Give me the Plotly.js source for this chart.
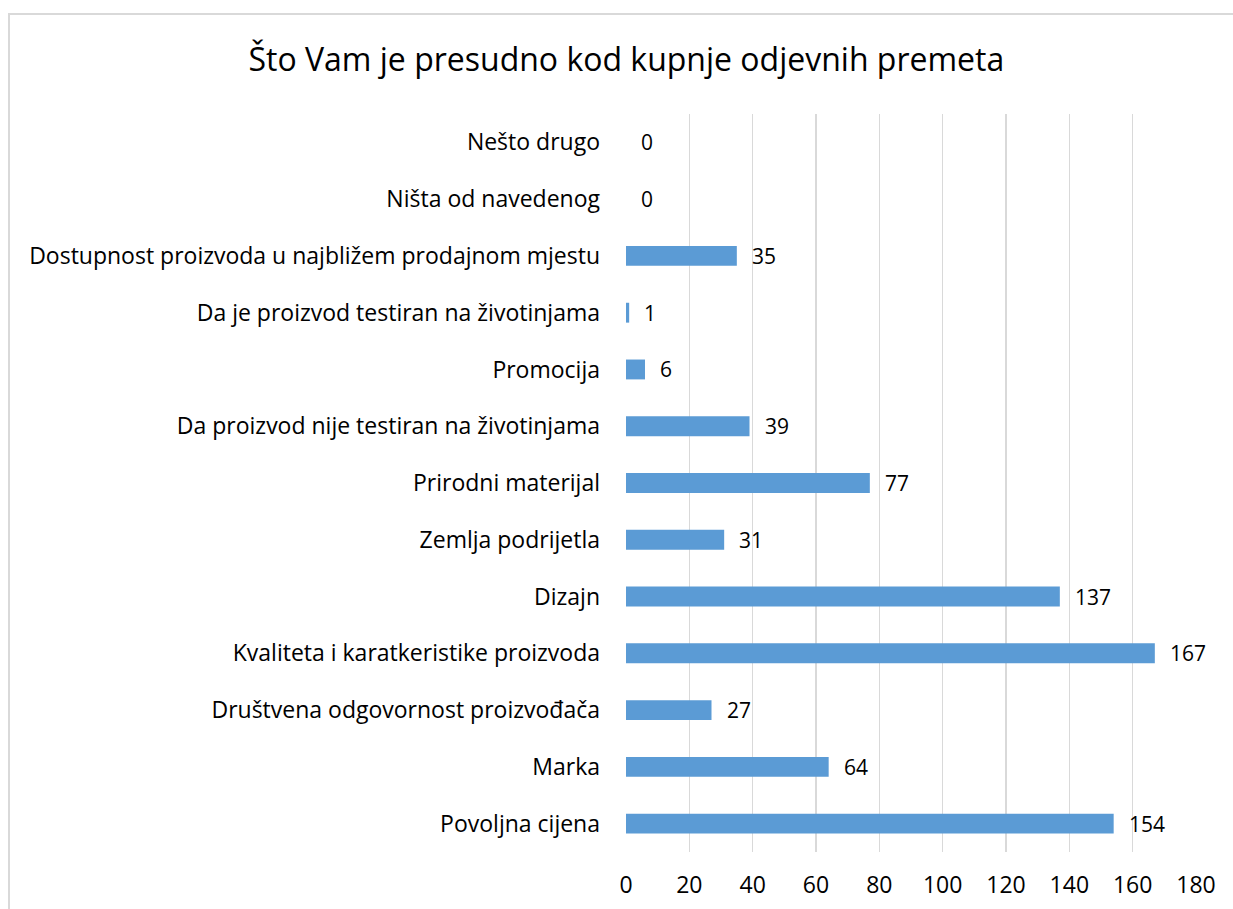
<!DOCTYPE html>
<html>
<head>
<meta charset="utf-8">
<script src="https://cdn.plot.ly/plotly-3.0.1.min.js"></script>
<style>
html,body{margin:0;padding:0;background:#fff;overflow:hidden;}
#chart{width:1233px;height:909px;position:absolute;left:0;top:0;}
#frame{position:absolute;left:8px;top:13px;width:1260px;height:940px;border:2px solid #d9d9d9;pointer-events:none;box-sizing:border-box;}
</style>
</head>
<body>
<div id="chart"></div>
<div id="frame"></div>
<script>
const categories = [
  "Povoljna cijena",
  "Marka",
  "Društvena odgovornost proizvođača",
  "Kvaliteta i karatkeristike proizvoda",
  "Dizajn",
  "Zemlja podrijetla",
  "Prirodni materijal",
  "Da proizvod nije testiran na životinjama",
  "Promocija",
  "Da je proizvod testiran na životinjama",
  "Dostupnost proizvoda u najbližem prodajnom mjestu",
  "Ništa od navedenog",
  "Nešto drugo"
];
const values = [154, 64, 27, 167, 137, 31, 77, 39, 6, 1, 35, 0, 0];
const xTicks = [0, 20, 40, 60, 80, 100, 120, 140, 160, 180];
const titleText = "Što Vam je presudno kod kupnje odjevnih premeta";

const FONT = "Open Sans, sans-serif";

const trace = {
  type: "bar",
  orientation: "h",
  y: categories,
  x: values,
  marker: {color: "#5b9bd5"},
  hoverinfo: "x+y"
};

const annotations = categories.map((c, i) => ({
  x: values[i], y: c, xref: "x", yref: "y",
  text: String(values[i]), showarrow: false,
  xanchor: "left", xshift: 13,
  font: {family: FONT, size: 21, color: "#000"}
}));

const layout = {
  width: 1233, height: 909,
  margin: {l: 626, r: 37, t: 114, b: 57},
  paper_bgcolor: "#fff", plot_bgcolor: "#fff",
  title: {text: titleText, x: 0.508, xanchor: "center", y: 0.934, yanchor: "middle",
    font: {family: FONT, size: 32, color: "#000"}},
  bargap: 0.65,
  showlegend: false,
  xaxis: {
    range: [0, 180], tickvals: xTicks, ticktext: xTicks.map(String),
    showgrid: true, gridcolor: "#d9d9d9", gridwidth: 1.6,
    zeroline: false, showline: false, ticks: "",
    ticklabelstandoff: 17,
    tickfont: {family: FONT, size: 23, color: "#000"}, fixedrange: true
  },
  yaxis: {
    type: "category", range: [-0.5, 12.5],
    showgrid: false, zeroline: false, showline: false, ticks: "",
    ticklabelstandoff: 25,
    tickfont: {family: FONT, size: 23, color: "#000"}, fixedrange: true
  },
  annotations: annotations
};

Plotly.newPlot("chart", [trace], layout, {displayModeBar: false, staticPlot: true});
</script>
</body>
</html>
